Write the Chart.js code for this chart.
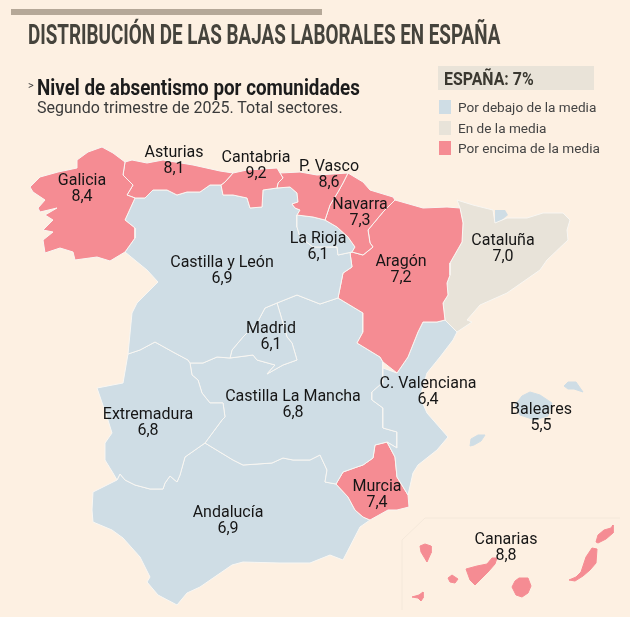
<!DOCTYPE html>
<html lang="es">
<head>
<meta charset="utf-8">
<title>Distribución de las bajas laborales en España</title>
<script src="https://cdn.jsdelivr.net/npm/chart.js@4"></script>
<style>
    html, body { margin: 0; padding: 0; background: #fdf0e2; }
    body { width: 630px; height: 617px; position: relative; overflow: hidden; font-family: Roboto, sans-serif; color: #1f1f1f; }
    canvas { position: absolute; left: 0; top: 0; }
    .abs { position: absolute; white-space: nowrap; transform-origin: left top; }
    #topBar { left: 11px; top: 9px; width: 311px; height: 6px; background: #b5a898; }
    #title { left: 28px; top: 18px; font: bold 28px Roboto, sans-serif; color: #45433c; }
    #subTitle { left: 37px; top: 75px; font: bold 22px Roboto, sans-serif; color: #1c1c1c; }
    #arrow { left: 28px; top: 79px; font: 11px Roboto, sans-serif; color: #3a3a3a; }
    #note { left: 37px; top: 98px; font: 16px Roboto, sans-serif; color: #3a3a3a; }
    #avgBox { left: 438px; top: 66px; width: 156px; height: 24px; background: #e9e3d8; }
    #avgText { left: 444px; top: 67px; font: bold 18px/24px Roboto, sans-serif; color: #3a3830; }
    .chip { width: 12px; height: 14px; left: 439px; }
    .leg { left: 458px; font: 13.6px Roboto, sans-serif; color: #444; }
</style>
</head>
<body>
<canvas id="mapChart" width="630" height="617"></canvas>
<div class="abs" id="topBar"></div>
<div class="abs" id="title">DISTRIBUCIÓN DE LAS BAJAS LABORALES EN ESPAÑA</div>
<div class="abs" id="arrow">&gt;</div>
<div class="abs" id="subTitle">Nivel de absentismo por comunidades</div>
<div class="abs" id="note">Segundo trimestre de 2025. Total sectores.</div>
<div class="abs" id="avgBox"></div>
<div class="abs" id="avgText"></div>
<div id="legendBox"></div>
<script>
// Data
const regions = ["Galicia", "Asturias", "Cantabria", "P. Vasco", "Navarra", "La Rioja", "Castilla y León", "Aragón", "Cataluña", "Madrid", "Extremadura", "C. Valenciana", "Castilla La Mancha", "Baleares", "Murcia", "Andalucía", "Canarias"];
const absenteeism = [8.4, 8.1, 9.2, 8.6, 7.3, 6.1, 6.9, 7.2, 7.0, 6.1, 6.8, 6.4, 6.8, 5.5, 7.4, 6.9, 8.8];
const nationalAverage = 7;
const legendLabels = ["Por debajo de la media", "En de la media", "Por encima de la media"];
const legendColors = ["#cfdde5", "#e8e3d9", "#f58c93"];

// Map outlines in map units (x east, y south)
const galicia = [[30,187],[40,177],[58,172],[77,168],[77,160],[88,152],[102,147],[113,153],[125,162],[123,175],[133,185],[127,195],[135,198],[125,220],[135,228],[135,238],[125,252],[110,261],[97,257],[75,260],[73,252],[60,248],[45,253],[43,240],[53,232],[43,230],[53,220],[45,215],[57,208],[40,212],[38,208],[45,200],[33,192]];
const asturias = [[125,162],[132,160],[147,163],[163,160],[193,165],[220,171],[233,173],[225,182],[221,185],[210,185],[200,192],[187,192],[177,195],[167,190],[153,190],[145,198],[135,198],[127,195],[133,185],[123,175]];
const cantabria = [[233,173],[247,170],[277,168],[280,173],[283,178],[278,183],[277,188],[263,190],[262,207],[250,208],[247,198],[233,195],[223,195],[221,185],[225,182]];
const paisVasco = [[280,173],[300,172],[317,175],[348,173],[343,183],[338,192],[330,205],[325,220],[313,217],[297,215],[300,210],[295,208],[292,204],[298,202],[297,193],[290,187],[277,188],[278,183],[283,178]];
const navarra = [[348,173],[363,182],[370,190],[393,197],[395,200],[383,212],[368,230],[370,243],[373,247],[363,255],[352,252],[355,247],[348,237],[337,227],[325,220],[330,205],[338,192],[343,183]];
const laRioja = [[297,215],[313,217],[325,220],[337,227],[348,237],[355,247],[352,252],[338,255],[337,247],[313,247],[300,237],[297,227]];
const castillaLeon = [[135,198],[145,198],[153,190],[167,190],[177,195],[187,192],[200,192],[210,185],[221,185],[223,195],[233,195],[247,198],[250,208],[262,207],[263,190],[277,188],[290,187],[297,193],[298,202],[292,204],[295,208],[300,210],[297,215],[297,227],[300,237],[313,247],[337,247],[338,255],[352,252],[350,253],[352,267],[343,273],[338,298],[320,304],[297,295],[277,303],[265,308],[257,323],[243,337],[232,350],[230,358],[217,357],[203,363],[190,363],[188,360],[173,352],[155,342],[140,350],[128,354],[132,313],[137,303],[158,282],[147,270],[125,252],[135,238],[135,228],[125,220]];
const aragon = [[395,200],[423,208],[447,207],[460,208],[463,223],[462,242],[450,263],[450,275],[447,283],[448,295],[443,303],[445,320],[437,322],[423,322],[418,332],[408,357],[397,373],[383,362],[380,357],[357,343],[363,332],[363,313],[338,298],[343,273],[352,267],[350,253],[352,252],[363,255],[373,247],[370,243],[368,230],[383,212]];
const cataluna = [[457,200],[473,205],[493,210],[495,223],[507,218],[527,218],[543,213],[563,213],[570,220],[567,230],[568,240],[547,260],[540,270],[507,293],[480,305],[467,320],[472,322],[457,332],[445,320],[443,303],[448,295],[447,283],[450,275],[450,263],[462,242],[463,223],[460,208]];
const andorra = [[495,210],[505,210],[508,215],[497,224],[495,223]];
const madrid = [[277,303],[280,313],[287,337],[292,343],[297,360],[283,365],[267,374],[275,365],[257,360],[253,355],[230,358],[232,350],[243,337],[257,323],[265,308]];
const extremadura = [[128,354],[140,350],[155,342],[173,352],[188,360],[190,363],[192,375],[198,380],[202,393],[210,403],[223,403],[225,417],[222,420],[205,443],[185,457],[180,475],[177,482],[170,476],[165,483],[163,489],[150,489],[135,485],[125,480],[120,474],[117,480],[113,473],[105,460],[105,443],[112,433],[107,417],[97,388],[123,383]];
const valenciana = [[397,373],[408,357],[418,332],[423,322],[437,322],[445,320],[457,332],[453,340],[440,357],[427,373],[420,397],[427,413],[448,437],[437,450],[418,465],[413,473],[408,495],[397,477],[395,457],[387,442],[397,448],[397,432],[383,428],[383,408],[372,400],[372,392],[382,383],[383,368]];
const castillaMancha = [[190,363],[203,363],[217,357],[230,358],[253,355],[257,360],[275,365],[267,374],[283,365],[297,360],[292,343],[287,337],[280,313],[277,303],[297,295],[320,304],[338,298],[363,313],[363,332],[357,343],[380,357],[383,362],[383,368],[382,383],[372,392],[372,400],[383,408],[383,428],[397,432],[397,448],[387,442],[375,445],[373,458],[363,465],[357,467],[343,472],[336,484],[325,482],[327,470],[320,455],[310,460],[293,460],[283,458],[272,463],[243,465],[233,460],[205,443],[222,420],[225,417],[223,403],[210,403],[202,393],[198,380],[192,375]];
const murcia = [[336,484],[343,472],[357,467],[363,465],[373,458],[375,445],[387,442],[395,457],[397,477],[408,495],[409,507],[397,510],[388,510],[370,520],[363,517],[355,510],[348,497]];
const andalucia = [[117,480],[120,474],[125,480],[135,485],[150,489],[163,489],[165,483],[170,476],[177,482],[180,475],[185,457],[205,443],[233,460],[243,465],[272,463],[283,458],[293,460],[310,460],[320,455],[327,470],[325,482],[336,484],[348,497],[355,510],[363,517],[370,520],[360,527],[343,560],[330,555],[310,563],[280,563],[243,562],[232,565],[200,587],[187,593],[177,605],[158,595],[147,582],[150,577],[140,557],[123,538],[112,530],[93,522],[92,510],[93,492]];
const mallorca = [[515,405],[522,396],[530,392],[540,395],[552,403],[548,416],[535,420],[520,415]];
const menorca = [[564,386],[568,382],[576,382],[583,392],[574,389],[568,389]];
const ibiza = [[470,446],[471,439],[478,435],[485,435],[481,441],[474,445]];
const laPalma = [[420,546],[425,544],[431,546],[431,553],[427,562],[424,557],[421,552]];
const gomera = [[448,578],[452,575],[458,579],[455,583],[450,582]];
const hierro = [[412,597],[419,595],[423,592],[423,598],[421,601],[418,598]];
const tenerife = [[466,569],[477,566],[487,564],[492,558],[497,558],[495,564],[488,572],[480,580],[475,585],[470,580]];
const granCanaria = [[512,587],[515,581],[519,578],[528,578],[531,586],[528,593],[522,597],[516,595]];
const fuerteventura = [[569,580],[576,577],[581,572],[586,557],[592,548],[597,549],[596,563],[590,570],[583,576],[575,581]];
const lanzarote = [[596,542],[598,535],[604,530],[611,528],[613,525],[613,533],[606,539],[598,543]];
const canariasFrame = [[402,610],[402,540],[425,518],[620,518]];

// Which outlines belong to which region, in drawing order
const regionShapes = {
    "Galicia": [galicia], "Asturias": [asturias], "Cantabria": [cantabria], "P. Vasco": [paisVasco], "Navarra": [navarra],
    "La Rioja": [laRioja], "Castilla y León": [castillaLeon], "Aragón": [aragon], "Cataluña": [cataluna], "Madrid": [madrid],
    "Extremadura": [extremadura], "C. Valenciana": [valenciana], "Castilla La Mancha": [castillaMancha], "Baleares": [mallorca, menorca, ibiza],
    "Murcia": [murcia], "Andalucía": [andalucia], "Canarias": [laPalma, gomera, hierro, tenerife, granCanaria, fuerteventura, lanzarote]
};
const islandRegions = ["Baleares", "Canarias"];

// Label anchors in map units, same order as regions
const labelX = [82, 174, 256, 329, 360, 318, 222, 401, 503, 271, 148, 428, 293, 541, 377, 228, 506];
const labelY = [181, 153, 158, 167, 205, 239, 263, 262, 241, 329, 415, 384, 397, 410, 487, 513, 540];

function colorFor(value) {
    if (value < nationalAverage) return legendColors[0];
    if (value > nationalAverage) return legendColors[2];
    return legendColors[1];
}

function toPoints(shape) {
    let points = shape.map(p => ({ x: p[0], y: p[1] }));
    points.push({ x: shape[0][0], y: shape[0][1] });
    return points;
}

function formatValue(value) {
    return value.toFixed(1).replace(".", ",");
}

// Squeeze a heading to the width it has in the picture (no condensed font available)
function fitWidth(id, width) {
    const el = document.getElementById(id);
    el.style.transform = `scaleX(${width / el.offsetWidth})`;
}

// One filled dataset per polygon
let datasets = [];
regions.forEach((name, index) => {
    const fillColor = colorFor(absenteeism[index]);
    regionShapes[name].forEach(shape => {
        datasets.push({
            label: name,
            data: toPoints(shape),
            showLine: true,
            fill: "shape",
            tension: 0,
            pointRadius: 0,
            borderWidth: 1,
            borderColor: islandRegions.includes(name) ? fillColor : "#f8f6f2",
            backgroundColor: fillColor
        });
    });
});
datasets.push({
    label: "Andorra", data: toPoints(andorra), showLine: true, fill: "shape", pointRadius: 0,
    borderWidth: 0, backgroundColor: legendColors[0]
});
datasets.push({
    label: "Marco Canarias", data: canariasFrame.map(p => ({ x: p[0], y: p[1] })), showLine: true, fill: false, pointRadius: 0,
    borderWidth: 1, borderColor: "#f4e8da"
});

// Region names and values on the map
const mapLabels = {
    id: "mapLabels",
    afterDatasetsDraw(chart) {
        const { ctx, scales } = chart;
        ctx.save();
        ctx.fillStyle = "#161616";
        ctx.textAlign = "center";
        ctx.textBaseline = "middle";
        ctx.font = "16px Roboto, sans-serif";
        regions.forEach((name, index) => {
            const x = scales.x.getPixelForValue(labelX[index]);
            const y = scales.y.getPixelForValue(labelY[index]);
            ctx.fillText(name, x, y);
            ctx.fillText(formatValue(absenteeism[index]), x, y + 16);
        });
        ctx.restore();
    }
};

new Chart(document.getElementById("mapChart").getContext("2d"), {
    type: "scatter",
    data: { datasets: datasets },
    plugins: [mapLabels],
    options: {
        responsive: false,
        animation: false,
        layout: { padding: 0 },
        plugins: { legend: { display: false }, tooltip: { enabled: false } },
        scales: {
            x: { type: "linear", display: false, min: 0, max: 630 },
            y: { type: "linear", display: false, min: 0, max: 617, reverse: true }
        }
    }
});

// Header and legend texts
document.getElementById("avgText").textContent = "ESPAÑA: " + nationalAverage + "%";
const legendBox = document.getElementById("legendBox");
const legendTop = [100, 121, 141];
legendLabels.forEach((text, index) => {
    legendBox.innerHTML += `<div class="abs chip" style="top:${legendTop[index]}px;background:${legendColors[index]}"></div>
                            <div class="abs leg" style="top:${legendTop[index] - 1}px">${text}</div>`;
});
fitWidth("title", 472);
fitWidth("subTitle", 323);
fitWidth("avgText", 90);
</script>
</body>
</html>
